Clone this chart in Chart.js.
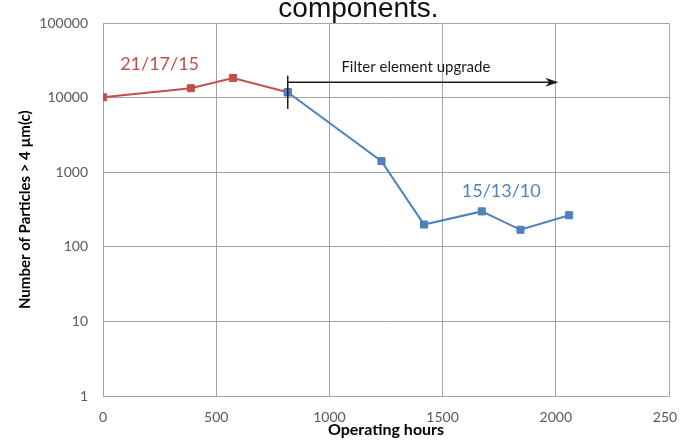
<!DOCTYPE html>
<html>
<head>
<meta charset="utf-8">
<title>Particle count vs operating hours</title>
<script src="https://cdn.jsdelivr.net/npm/chart.js@4.4.1/dist/chart.umd.min.js"></script>
<style>
  html, body { margin: 0; padding: 0; background: #fff; overflow: hidden; }
  #clip { position: absolute; left: 0; top: 0; width: 677px; height: 446px; overflow: hidden; }
  #wrap { width: 700px; height: 446px; }
  #pageTitle {
    position: absolute; left: 0; top: -6px; width: 717px;
    text-align: center; font: 28px/28px "Liberation Sans", Arial, sans-serif;
    color: #111; z-index: 2;
  }
</style>
</head>
<body>
<div id="clip"><div id="wrap"><canvas id="particleChart"></canvas></div></div>
<div id="pageTitle">components.</div>
<script>
// Values
const redHours = [0, 388, 574, 816];
const redParticles = [10200, 13500, 18500, 11900];
const blueHours = [816, 1230, 1418, 1673, 1844, 2059];
const blueParticles = [11900, 1420, 200, 300, 170, 267];

const xTickValues = [0, 500, 1000, 1500, 2000, 2500];
const yTickValues = [1, 10, 100, 1000, 10000, 100000];

const RED = '#c0504d';
const BLUE = '#4f81bd';
const FONT = 'Lato, "Open Sans", sans-serif';

// build {x, y} points from the arrays
function toPoints(xs, ys) {
    return xs.map((h, i) => ({ x: h, y: ys[i] }));
}

/**
 * Draws the ISO code labels and the "filter upgrade" arrow,
 * positioned through the chart's own scales.
 */
const notesPlugin = {
    id: 'notes',
    afterDatasetsDraw(chart, args, opts) {
        const { ctx, scales: { x, y } } = chart;
        ctx.save();

        opts.labels.forEach(l => {
            ctx.font = l.font;
            ctx.fillStyle = l.color;
            ctx.textAlign = l.align;
            ctx.textBaseline = 'middle';
            ctx.fillText(l.text, x.getPixelForValue(l.x), y.getPixelForValue(l.y));
        });

        const a = opts.arrow;
        const x0 = x.getPixelForValue(a.from);
        const x1 = x.getPixelForValue(a.to);
        const ay = y.getPixelForValue(a.y);
        ctx.strokeStyle = '#1a1a1a';
        ctx.fillStyle = '#1a1a1a';
        ctx.lineWidth = 1.5;

        ctx.beginPath();
        ctx.moveTo(x0, ay);
        ctx.lineTo(x1 - 8, ay);
        ctx.stroke();

        // arrow head
        ctx.beginPath();
        ctx.moveTo(x1, ay);
        ctx.lineTo(x1 - 13, ay - 4.5);
        ctx.lineTo(x1 - 9, ay);
        ctx.lineTo(x1 - 13, ay + 4.5);
        ctx.closePath();
        ctx.fill();

        // start marker
        ctx.beginPath();
        ctx.moveTo(x0, y.getPixelForValue(a.tickTop));
        ctx.lineTo(x0, y.getPixelForValue(a.tickBottom));
        ctx.stroke();

        ctx.restore();
    }
};

const ctx = document.getElementById('particleChart').getContext('2d');

new Chart(ctx, {
    type: 'line',
    data: {
        datasets: [{
            label: 'After upgrade',
            data: toPoints(blueHours, blueParticles),
            borderColor: BLUE,
            backgroundColor: BLUE,
            borderWidth: 2,
            pointStyle: 'rect',
            pointRadius: 5,
            pointBorderWidth: 1,
            tension: 0,
            order: 0
        }, {
            label: 'Before upgrade',
            data: toPoints(redHours, redParticles),
            borderColor: RED,
            backgroundColor: RED,
            borderWidth: 2,
            pointStyle: 'rect',
            pointRadius: 5,
            pointBorderWidth: 1,
            tension: 0,
            order: 1
        }]
    },
    options: {
        responsive: true,
        maintainAspectRatio: false,
        animation: false,
        layout: { padding: { top: 21, right: 31, left: 0, bottom: 0 } },
        plugins: {
            legend: { display: false },
            tooltip: { enabled: false },
            notes: {
                labels: [
                    { text: '21/17/15', x: 250, y: 28400, color: RED, align: 'center', font: '18px ' + FONT },
                    { text: '15/13/10', x: 1759, y: 558, color: BLUE, align: 'center', font: '18px ' + FONT },
                    { text: 'Filter element upgrade', x: 1053, y: 25500, color: '#1a1a1a', align: 'left', font: '15px ' + FONT }
                ],
                arrow: { from: 816, to: 2011, y: 16180, tickTop: 19900, tickBottom: 7130 }
            }
        },
        scales: {
            x: {
                type: 'linear',
                min: 0,
                max: 2500,
                afterBuildTicks: s => { s.ticks = xTickValues.map(v => ({ value: v })); },
                afterFit: s => { s.height = 50; },
                ticks: {
                    callback: v => String(v),
                    color: '#595959',
                    font: { family: FONT, size: 14 },
                    padding: 13,
                    maxRotation: 0
                },
                grid: { color: '#a3a3a3', drawTicks: false },
                border: { color: '#a3a3a3' },
                title: {
                    display: true,
                    text: 'Operating hours',
                    color: '#000',
                    font: { family: FONT, size: 16, weight: 'bold' },
                    padding: { top: 0, bottom: 7 }
                }
            },
            y: {
                type: 'logarithmic',
                min: 1,
                max: 100000,
                afterBuildTicks: s => { s.ticks = yTickValues.map(v => ({ value: v })); },
                afterFit: s => { s.width = 103; },
                ticks: {
                    callback: v => String(v),
                    color: '#595959',
                    font: { family: FONT, size: 14 },
                    padding: 15
                },
                grid: { color: '#a3a3a3', drawTicks: false },
                border: { color: '#a3a3a3' },
                title: {
                    display: true,
                    text: 'Number of Particles > 4 µm(c)',
                    color: '#000',
                    font: { family: FONT, size: 15, weight: 'bold' },
                    padding: { top: 16, bottom: 0 }
                }
            }
        }
    },
    plugins: [notesPlugin]
});
</script>
</body>
</html>
